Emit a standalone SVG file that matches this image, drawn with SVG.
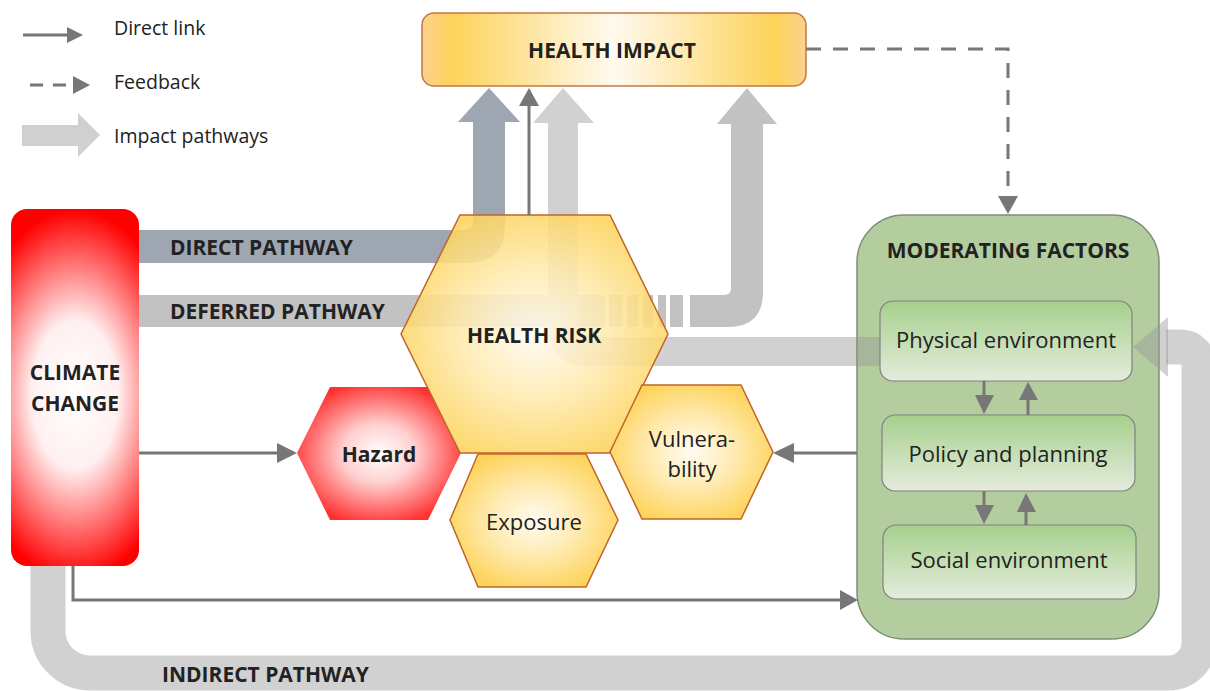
<svg xmlns="http://www.w3.org/2000/svg" width="1210" height="691" viewBox="0 0 1210 691">
  <style>
    .t { font-family: "Open Sans", "Liberation Sans", sans-serif; fill: #222; }
    .b { font-weight: bold; font-size: 21px; }
    .r { font-size: 22px; }
    .leg { font-size: 19.5px; }
    .link { stroke: #777; stroke-width: 3; fill: none; }
    .head { fill: #777; }
    .hex { stroke: #c0652a; stroke-width: 1.5; }
    .inner { stroke: #808080; stroke-width: 1.2; fill: url(#innerGrad); }
  </style>
  <defs>
    <radialGradient id="hexGrad" cx="0.5" cy="0.5" r="0.55">
      <stop offset="0" stop-color="#fffbf2"/>
      <stop offset="0.5" stop-color="#ffeaae"/>
      <stop offset="1" stop-color="#fdd35a"/>
    </radialGradient>
    <radialGradient id="hazGrad" cx="0.5" cy="0.5" r="0.55">
      <stop offset="0" stop-color="#ffffff"/>
      <stop offset="0.4" stop-color="#ffd0d0"/>
      <stop offset="1" stop-color="#ff3030"/>
    </radialGradient>
    <radialGradient id="climGrad" gradientUnits="userSpaceOnUse" cx="0" cy="0" r="1" gradientTransform="translate(75 395) scale(108 185)">
      <stop offset="0" stop-color="#ffffff"/>
      <stop offset="0.4" stop-color="#fff0f0"/>
      <stop offset="0.72" stop-color="#ff7070"/>
      <stop offset="1" stop-color="#ff0000"/>
    </radialGradient>
    <linearGradient id="impGrad" x1="0" y1="0" x2="1" y2="0">
      <stop offset="0" stop-color="#fbd28c"/>
      <stop offset="0.08" stop-color="#fdd35a"/>
      <stop offset="0.5" stop-color="#fffaf0"/>
      <stop offset="0.92" stop-color="#fdd35a"/>
      <stop offset="1" stop-color="#fbd28c"/>
    </linearGradient>
    <linearGradient id="innerGrad" x1="0" y1="0" x2="0" y2="1">
      <stop offset="0" stop-color="#a6d08c"/>
      <stop offset="1" stop-color="#e4ecdc"/>
    </linearGradient>
  </defs>

  <!-- legend -->
  <g id="legend">
    <line class="link" x1="23" y1="35" x2="70" y2="35"/>
    <polygon class="head" points="67,27 83,35 67,43"/>
    <text class="t leg" x="114" y="35">Direct link</text>
    <line class="link" x1="30" y1="85" x2="72" y2="85" stroke-width="4" stroke-dasharray="13 10"/>
    <polygon class="head" points="73,76 90,85 73,94"/>
    <text class="t leg" x="114" y="89">Feedback</text>
    <polygon fill="#d0d0d0" points="22,125 78,125 78,113 100,135 78,157 78,146 22,146"/>
    <text class="t leg" x="114" y="143">Impact pathways</text>
  </g>

  <!-- impact pathway bands -->
  <g id="pathways">
    <g id="indirect-pathway" opacity="0.45">
      <path d="M48,560 V631 A42,42 0 0 0 90,673 H1169 A30,30 0 0 0 1199,643 V365 A18,18 0 0 0 1181,347 H1166" fill="none" stroke="#999" stroke-width="35"/>
    </g>
    <path id="direct-pathway" fill="#9ea6b2" d="M139,230 H465 Q473,230 473,222 V122 H458 L489,88 L520,122 H505 V225 Q505,263 467,263 H139 Z"/>
    <g id="deferred-pathway">
      <path fill="#c2c2c2" d="M139,295 H724 Q731,295 731,288 V124 H717 L747,88 L777,124 H763 V292 Q763,327 728,327 H139 Z"/>
      <g fill="#fff">
        <rect x="605" y="294" width="4" height="34"/>
        <rect x="622" y="294" width="5" height="34"/>
        <rect x="638" y="294" width="5" height="34"/>
        <rect x="653" y="294" width="5" height="34"/>
        <rect x="666" y="294" width="4" height="34"/>
        <rect x="683" y="294" width="7" height="34"/>
      </g>
    </g>
    <path id="moderating-pathway" fill="#d1d1d1" d="M858,337 H586 Q578,337 578,329 V123 H594 L563,88 L533,123 H548 V326 Q548,366 588,366 H858 Z"/>
  </g>

  <!-- nodes -->
  <g id="health-impact">
    <rect x="422" y="13" width="384" height="73" rx="12" fill="url(#impGrad)" stroke="#c8763e" stroke-width="1.5"/>
    <text class="t b" x="612" y="58" text-anchor="middle">HEALTH IMPACT</text>
  </g>

  <g id="climate-change">
    <rect x="11" y="209" width="128" height="357" rx="16" fill="url(#climGrad)"/>
    <text class="t b" x="75" y="380" text-anchor="middle">CLIMATE</text>
    <text class="t b" x="75" y="411" text-anchor="middle">CHANGE</text>
  </g>

  <g id="hazard">
    <polygon points="330,387 428,387 461,453 428,520 330,520 297,453" fill="url(#hazGrad)"/>
    <text class="t b" x="379" y="462" text-anchor="middle">Hazard</text>
  </g>

  <g id="health-risk">
    <polygon class="hex" points="460,215 610,215 668,334 610,453 460,453 401,334" fill="url(#hexGrad)" fill-opacity="0.88"/>
    <text class="t b" x="534" y="343" text-anchor="middle">HEALTH RISK</text>
  </g>

  <g id="exposure">
    <polygon class="hex" points="478,454 586,454 618,520 586,587 478,587 450,520" fill="url(#hexGrad)"/>
    <text class="t r" x="534" y="530" text-anchor="middle">Exposure</text>
  </g>

  <g id="vulnerability">
    <polygon class="hex" points="642,385 741,385 773,452 741,519 642,519 610,452" fill="url(#hexGrad)"/>
    <text class="t r" x="692" y="447" text-anchor="middle">Vulnera-</text>
    <text class="t r" x="692" y="477" text-anchor="middle">bility</text>
  </g>

  <g id="moderating-factors">
    <rect x="857" y="215" width="302" height="424" rx="47" fill="#b3cd9e" stroke="#7f8f76" stroke-width="1.5"/>
    <text class="t b" x="1008" y="258" text-anchor="middle">MODERATING FACTORS</text>
    <!-- light band entering the box, seen through its fill -->
    <rect x="858" y="337" width="23" height="29" fill="#999" fill-opacity="0.45"/>
    <g id="physical-environment">
      <rect class="inner" x="880" y="301" width="252" height="80" rx="13"/>
      <text class="t r" x="1006" y="348" text-anchor="middle">Physical environment</text>
    </g>
    <g id="policy-planning">
      <rect class="inner" x="882" y="415" width="253" height="76" rx="13"/>
      <text class="t r" x="1008" y="462" text-anchor="middle">Policy and planning</text>
    </g>
    <g id="social-environment">
      <rect class="inner" x="883" y="525" width="253" height="74" rx="13"/>
      <text class="t r" x="1009" y="568" text-anchor="middle">Social environment</text>
    </g>
  </g>

  <!-- indirect pathway head over the moderating box -->
  <polygon fill="#999" fill-opacity="0.45" points="1168,317 1133,347 1168,377"/>

  <!-- direct links and feedback -->
  <g id="connectors">
    <line class="link" x1="529" y1="215" x2="529" y2="104"/>
    <polygon class="head" points="519,106 529,88 539,106"/>

    <line class="link" x1="139" y1="453" x2="280" y2="453"/>
    <polygon class="head" points="277,443 297,453 277,463"/>

    <polyline class="link" points="73,566 73,600 843,600"/>
    <polygon class="head" points="840,590 858,600 840,610"/>

    <line class="link" x1="857" y1="453" x2="790" y2="453"/>
    <polygon class="head" points="794,443 773,453 794,463"/>

    <polyline class="link" points="806,49 1008,49 1008,200" stroke-width="4" stroke-dasharray="15 12"/>
    <polygon class="head" points="998,196 1008,214 1018,196"/>

    <line class="link" x1="984" y1="381" x2="984" y2="398"/>
    <polygon class="head" points="975,395 984,414 994,395"/>
    <line class="link" x1="1028" y1="415" x2="1028" y2="398"/>
    <polygon class="head" points="1019,400 1028,382 1038,400"/>

    <line class="link" x1="984" y1="491" x2="984" y2="508"/>
    <polygon class="head" points="975,505 984,524 994,505"/>
    <line class="link" x1="1026" y1="525" x2="1026" y2="510"/>
    <polygon class="head" points="1017,512 1026,493 1036,512"/>
  </g>

  <!-- band labels -->
  <g id="band-labels">
    <text class="t b" x="170" y="255">DIRECT PATHWAY</text>
    <text class="t b" x="170" y="319">DEFERRED PATHWAY</text>
    <text class="t b" x="162" y="682">INDIRECT PATHWAY</text>
  </g>
</svg>
